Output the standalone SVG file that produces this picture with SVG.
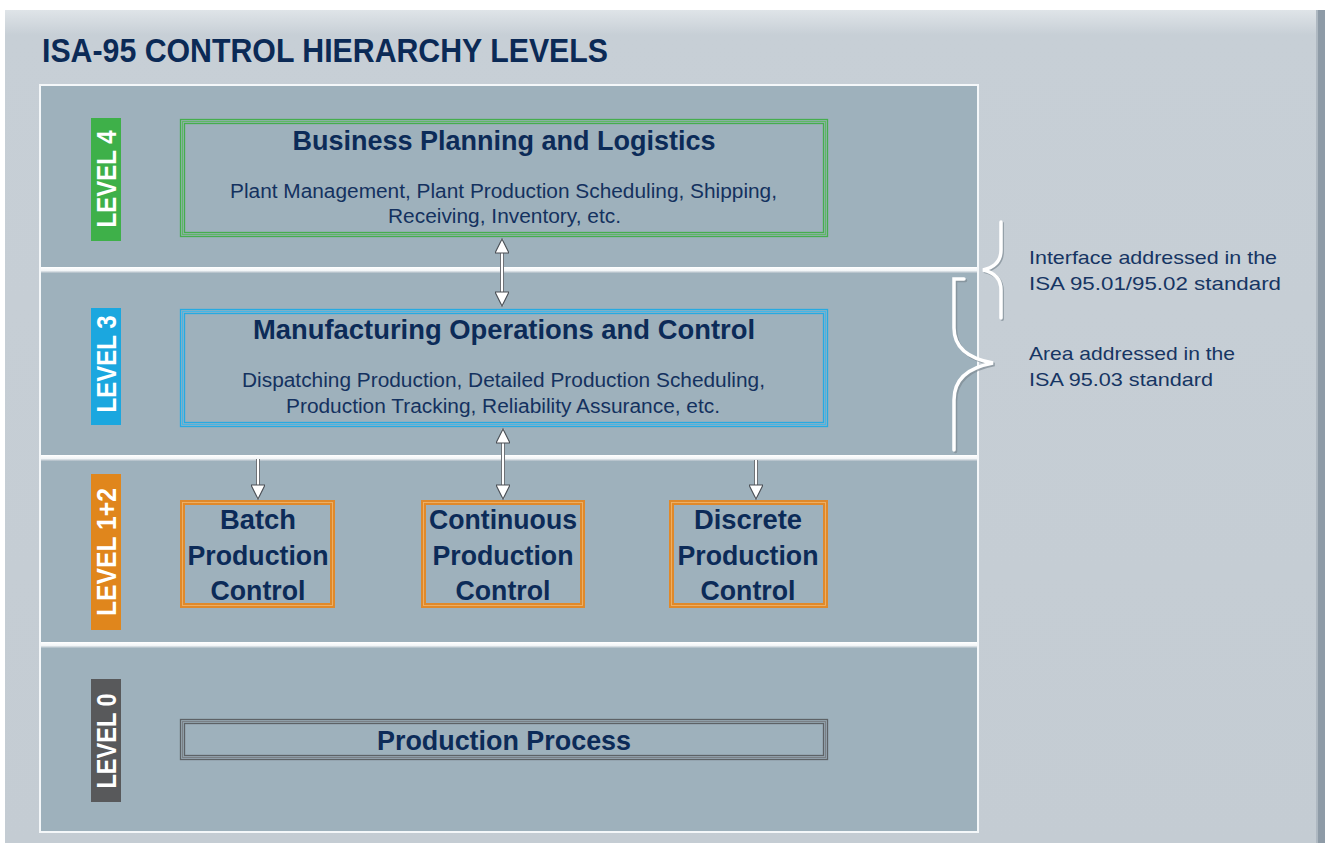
<svg xmlns="http://www.w3.org/2000/svg" width="1325" height="843" viewBox="0 0 1325 843">
<defs>
<style>
.title{font-family:"Liberation Sans",Arial,sans-serif;font-weight:bold;font-size:33px;fill:#0b2a56}
.lvl{font-family:"Liberation Sans",Arial,sans-serif;font-weight:bold;font-size:27px;fill:#ffffff}
.bt{font-family:"Liberation Sans",Arial,sans-serif;font-weight:bold;font-size:27px;fill:#0c2b58;text-anchor:middle}
.st{font-family:"Liberation Sans",Arial,sans-serif;font-size:19.5px;fill:#14315f;text-anchor:middle}
.rt{font-family:"Liberation Sans",Arial,sans-serif;font-size:18.5px;fill:#163563}
.shaftdark{stroke:#4a4f55;stroke-width:4;fill:none}
.shaft{stroke:#ffffff;stroke-width:2.4;fill:none}
.brace{fill:none;stroke:#ffffff;stroke-width:3.5;stroke-linecap:round}
.braceShadow{fill:none;stroke:#7d8a93;stroke-width:3.5;stroke-linecap:round;opacity:0.7}
.og{fill:none;stroke:#e0892a;stroke-width:5}
.ogm{fill:none;stroke:#efb36a;stroke-width:0.9}
</style>
<linearGradient id="bg" x1="0" y1="0" x2="0" y2="1">
<stop offset="0" stop-color="#dfe4e8"/>
<stop offset="0.03" stop-color="#c7cfd6"/>
<stop offset="1" stop-color="#c4ccd3"/>
</linearGradient>
<linearGradient id="sep" x1="0" y1="0" x2="0" y2="1">
<stop offset="0" stop-color="#ffffff"/>
<stop offset="0.6" stop-color="#f2f5f7"/>
<stop offset="1" stop-color="#a9b8c2"/>
</linearGradient>
<marker id="ah" viewBox="0 0 10 10" refX="10" refY="5" markerWidth="18" markerHeight="14" markerUnits="userSpaceOnUse" orient="auto-start-reverse">
<path d="M0,0 L10,5 L0,10 z" fill="#ffffff" stroke="#4a4f55" stroke-width="0.8"/>
</marker>
</defs>

<rect x="0" y="0" width="1325" height="843" fill="#ffffff"/>
<rect x="5" y="10" width="1320" height="833" fill="url(#bg)"/>
<rect x="1318" y="10" width="7" height="833" fill="#8e9ba7"/>
<rect x="1316" y="10" width="2" height="833" fill="#aeb8c1"/>

<text class="title" x="42" y="62" textLength="566" lengthAdjust="spacingAndGlyphs">ISA-95 CONTROL HIERARCHY LEVELS</text>

<g id="panel">
<rect x="40" y="85" width="938" height="747" fill="#9eb1bc" stroke="#f4f7f9" stroke-width="2"/>
<rect x="41" y="267" width="936" height="6" fill="url(#sep)"/>
<rect x="41" y="455" width="936" height="6" fill="url(#sep)"/>
<rect x="41" y="642" width="936" height="6" fill="url(#sep)"/>
</g>

<g id="level4-label">
<rect x="91" y="118" width="30" height="123" fill="#3eb049"/>
<text class="lvl" transform="translate(116,179) rotate(-90)" text-anchor="middle" textLength="97" lengthAdjust="spacingAndGlyphs">LEVEL 4</text>
</g>
<g id="level3-label">
<rect x="91" y="308" width="30" height="117" fill="#1ba7df"/>
<text class="lvl" transform="translate(116,364) rotate(-90)" text-anchor="middle" textLength="97" lengthAdjust="spacingAndGlyphs">LEVEL 3</text>
</g>
<g id="level12-label">
<rect x="91" y="474" width="30" height="156" fill="#e0861c"/>
<text class="lvl" transform="translate(116,552) rotate(-90)" text-anchor="middle" textLength="128" lengthAdjust="spacingAndGlyphs">LEVEL 1+2</text>
</g>
<g id="level0-label">
<rect x="91" y="679" width="30" height="123" fill="#58595b"/>
<text class="lvl" transform="translate(116,741) rotate(-90)" text-anchor="middle" textLength="95" lengthAdjust="spacingAndGlyphs">LEVEL 0</text>
</g>

<g id="business">
<rect x="180.5" y="119.5" width="647" height="117" fill="none" stroke="#46ad4e" stroke-width="1.3"/>
<rect x="182.5" y="121.5" width="643" height="113" fill="none" stroke="#5fb866" stroke-width="1.3"/>
<rect x="184.5" y="123.5" width="639" height="109" fill="none" stroke="#46ad4e" stroke-width="1.3"/>
<text class="bt" x="504" y="150" textLength="423" lengthAdjust="spacingAndGlyphs">Business Planning and Logistics</text>
<text class="st" x="503.5" y="198" textLength="547" lengthAdjust="spacingAndGlyphs">Plant Management, Plant Production Scheduling, Shipping,</text>
<text class="st" x="504.5" y="223" textLength="233" lengthAdjust="spacingAndGlyphs">Receiving, Inventory, etc.</text>
</g>

<g id="manufacturing">
<rect x="180.5" y="309.5" width="647" height="117" fill="none" stroke="#27aae1" stroke-width="1.3"/>
<rect x="182.5" y="311.5" width="643" height="113" fill="none" stroke="#45b6e6" stroke-width="1.3"/>
<rect x="184.5" y="313.5" width="639" height="109" fill="none" stroke="#27aae1" stroke-width="1.3"/>
<text class="bt" x="504" y="339" textLength="502" lengthAdjust="spacingAndGlyphs">Manufacturing Operations and Control</text>
<text class="st" x="503.5" y="387" textLength="523" lengthAdjust="spacingAndGlyphs">Dispatching Production, Detailed Production Scheduling,</text>
<text class="st" x="503" y="413" textLength="434" lengthAdjust="spacingAndGlyphs">Production Tracking, Reliability Assurance, etc.</text>
</g>

<g id="batch">
<rect class="og" x="182.5" y="502.5" width="150" height="103"/>
<rect class="ogm" x="182.5" y="502.5" width="150" height="103"/>
<text class="bt" x="258" y="529" textLength="76" lengthAdjust="spacingAndGlyphs">Batch</text>
<text class="bt" x="258" y="565" textLength="141" lengthAdjust="spacingAndGlyphs">Production</text>
<text class="bt" x="258" y="600" textLength="95" lengthAdjust="spacingAndGlyphs">Control</text>
</g>

<g id="continuous">
<rect class="og" x="423.5" y="502.5" width="159" height="103"/>
<rect class="ogm" x="423.5" y="502.5" width="159" height="103"/>
<text class="bt" x="503" y="529" textLength="148" lengthAdjust="spacingAndGlyphs">Continuous</text>
<text class="bt" x="503" y="565" textLength="141" lengthAdjust="spacingAndGlyphs">Production</text>
<text class="bt" x="503" y="600" textLength="95" lengthAdjust="spacingAndGlyphs">Control</text>
</g>

<g id="discrete">
<rect class="og" x="671.5" y="502.5" width="154" height="103"/>
<rect class="ogm" x="671.5" y="502.5" width="154" height="103"/>
<text class="bt" x="748" y="529" textLength="108" lengthAdjust="spacingAndGlyphs">Discrete</text>
<text class="bt" x="748" y="565" textLength="141" lengthAdjust="spacingAndGlyphs">Production</text>
<text class="bt" x="748" y="600" textLength="95" lengthAdjust="spacingAndGlyphs">Control</text>
</g>

<g id="production-process">
<rect x="180.5" y="719.5" width="647" height="40" fill="none" stroke="#5d6266" stroke-width="1.3"/>
<rect x="182.5" y="721.5" width="643" height="36" fill="none" stroke="#7a8086" stroke-width="1.3"/>
<rect x="184.5" y="723.5" width="639" height="32" fill="none" stroke="#5d6266" stroke-width="1.3"/>
<text class="bt" x="504" y="750" textLength="254" lengthAdjust="spacingAndGlyphs">Production Process</text>
</g>

<g id="connectors">
<line class="shaftdark" x1="502" y1="252" x2="502" y2="293"/>
<line class="shaft" x1="502" y1="239" x2="502" y2="306" marker-start="url(#ah)" marker-end="url(#ah)"/>
<line class="shaftdark" x1="503" y1="442" x2="503" y2="486"/>
<line class="shaft" x1="503" y1="429" x2="503" y2="499" marker-start="url(#ah)" marker-end="url(#ah)"/>
<line class="shaftdark" x1="258" y1="459" x2="258" y2="486"/>
<line class="shaft" x1="258" y1="459" x2="258" y2="499" marker-end="url(#ah)"/>
<line class="shaftdark" x1="756" y1="460" x2="756" y2="486"/>
<line class="shaft" x1="756" y1="460" x2="756" y2="499" marker-end="url(#ah)"/>
</g>

<g id="brace-interface">
<path class="braceShadow" transform="translate(1.2,1.2)" d="M1001,222 L1001,250 Q1001,266 983,270 Q1001,274 1001,290 L1001,318"/>
<path class="brace" d="M1001,222 L1001,250 Q1001,266 983,270 Q1001,274 1001,290 L1001,318"/>
<text class="rt" x="1029" y="264" textLength="248" lengthAdjust="spacingAndGlyphs">Interface addressed in the</text>
<text class="rt" x="1029" y="290" textLength="252" lengthAdjust="spacingAndGlyphs">ISA 95.01/95.02 standard</text>
</g>

<g id="brace-area">
<path class="braceShadow" transform="translate(1.5,1.5)" d="M964,279 L954,279 L954,328 Q954,356 993,363 Q954,370 954,400 L954,450"/>
<path class="brace" stroke-width="4.5" d="M964,279 L954,279 L954,328 Q954,356 993,363 Q954,370 954,400 L954,450"/>
<text class="rt" x="1029" y="360" textLength="206" lengthAdjust="spacingAndGlyphs">Area addressed in the</text>
<text class="rt" x="1029" y="386" textLength="184" lengthAdjust="spacingAndGlyphs">ISA 95.03 standard</text>
</g>
</svg>
